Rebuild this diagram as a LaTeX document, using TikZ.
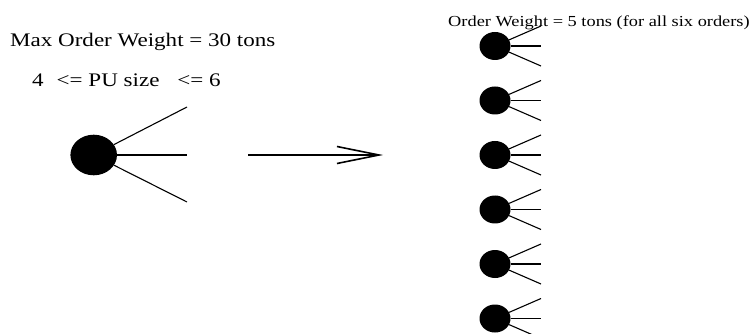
\documentclass[tikz,border=0pt]{standalone}
\usepackage{fontspec}
\setmainfont{Liberation Serif}[FakeStretch=1.2]
\usetikzlibrary{arrows.meta,shapes.geometric}

\begin{document}
\begin{tikzpicture}[x=1pt, y=-1pt,
    order/.style={ellipse, fill=black, inner sep=0pt},
    spoke/.style={line width=1.1pt},
    bigfont/.style={font=\fontsize{19.2}{23}\selectfont},
    smallfont/.style={font=\fontsize{15.3}{18}\selectfont}]
    \useasboundingbox (0,0) rectangle (753,334);

    % Labels on the left
    \node[bigfont, anchor=base west, inner sep=0pt] (maxw) at (10,46.7) {Max Order Weight = 30 tons};
    \node[bigfont, anchor=base west, inner sep=0pt] (pusize) at (32,86.7)
         {4\hspace{13pt}<=\ PU size\hspace{18pt}<=\ 6};

    % Big order with its three spokes
    \node[order, minimum width=46.6pt, minimum height=40.6pt] (big) at (93.7,155) {};
    \coordinate (bigtop) at (187,107);
    \coordinate (bigmid) at (187,155);
    \coordinate (bigbot) at (187,202);
    \draw[spoke] (big) -- (bigtop);
    \draw[spoke] (big) -- (bigmid);
    \draw[spoke] (big) -- (bigbot);

    % Split arrow
    \coordinate (from) at (248,155);
    \coordinate (to) at (383,155);
    \draw[line width=1.6pt, -{Straight Barb[length=42pt, width=17pt, line width=1.6pt]}] (from) -- (to);

    % Label on the right
    \node[smallfont, anchor=base west, inner sep=0pt] (smallw) at (448,26.7)
         {Order Weight = 5 tons (for all six orders)};

    % Six small orders
    \foreach \i in {0,...,5} {
        \node[order, minimum width=31pt, minimum height=28pt] (small\i) at (495,{46+54.5*\i}) {};
        \coordinate (stop\i) at (541,{46+54.5*\i-20});
        \coordinate (smid\i) at (541,{46+54.5*\i});
        \coordinate (sbot\i) at (541,{46+54.5*\i+20});
        \draw[spoke] (small\i) -- (stop\i);
        \draw[spoke] (small\i) -- (smid\i);
        \draw[spoke] (small\i) -- (sbot\i);
    }
\end{tikzpicture}
\end{document}
